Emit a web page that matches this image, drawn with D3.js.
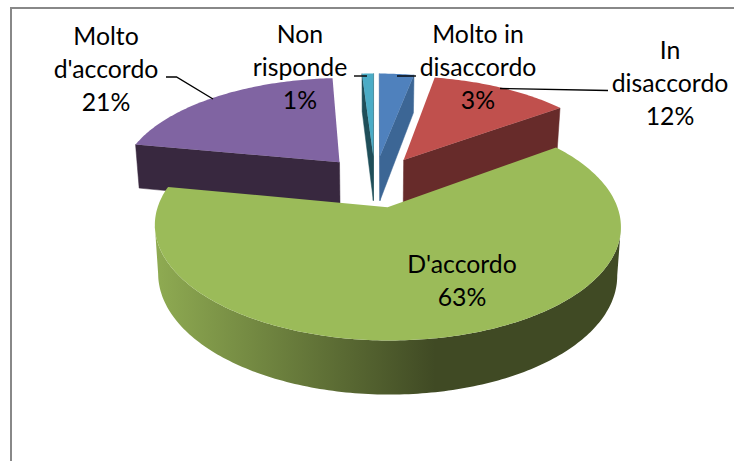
<!DOCTYPE html>
<html>
<head>
<meta charset="utf-8">
<script src="https://cdn.jsdelivr.net/npm/d3@7"></script>
<style>
  html, body { margin: 0; padding: 0; background: #fff; }
  text { font-family: Lato, "Open Sans", sans-serif; font-size: 24.8px; fill: #000; }
</style>
</head>
<body>
<div id="chart"></div>
<script>
const categories = ["Molto in disaccordo", "In disaccordo", "D'accordo", "Molto d'accordo", "Non risponde"];
const percents = [3, 12, 63, 21, 1];
const topColors = ["#4f81bd", "#c0504d", "#9bbb59", "#8064a2", "#4bacc6"];
const wallColors = ["#3c6695", "#672b2a", "#404a24", "#38283f", "#1f4e59"];

// label lines, broken the way the original wraps them
const labelLines = [
    ["Molto in", "disaccordo", "3%"],
    ["In", "disaccordo", "12%"],
    ["D'accordo", "63%"],
    ["Molto", "d'accordo", "21%"],
    ["Non", "risponde", "1%"],
];
const labelSpots = [[478, 43], [670, 59], [462, 273], [106, 45], [300, 43]];
const leaderLines = [
    [[397, 76], [416, 76]],
    [[500, 88.5], [608, 90.5]],
    [[166, 77], [176.5, 77], [213, 99]],
    [[354, 76], [367, 76]],
];

const width = 734, height = 461;
const svg = d3.select("#chart").append("svg")
    .attr("width", width)
    .attr("height", height);

// frame, only top and left are in the crop
svg.append("path")
    .attr("d", "M11,461V8H734")
    .attr("fill", "none")
    .attr("stroke", "#888888")
    .attr("stroke-width", 2);

// perspective of the tilted disc
const centerX = 375, centerY = 181;
const scaleX = 221, scaleY = 103, persp = 0.158;
const explode = 0.25;

function project(px, py, down) {
    const w = 1 + persp * py;
    const shrink = down ? 0.985 : 1;
    return [
        centerX + shrink * scaleX * px / w,
        centerY - scaleY * py / w + (down ? 46 - 6.5 * py : 0),
    ];
}

const slices = d3.pie().sort(null).value(d => d)(percents);

const defs = svg.append("defs");
const wallGrad = defs.append("linearGradient")
    .attr("id", "greenWall")
    .attr("gradientUnits", "userSpaceOnUse")
    .attr("x1", 155).attr("x2", 622).attr("y1", 0).attr("y2", 0);
wallGrad.append("stop").attr("offset", "0%").attr("stop-color", "#8fab52");
wallGrad.append("stop").attr("offset", "60%").attr("stop-color", "#404a24");
wallGrad.append("stop").attr("offset", "100%").attr("stop-color", "#404a24");

const line = d3.line();
const order = [3, 4, 0, 1, 2]; // back slices first, the big green one on top

order.forEach(i => {
    const s = slices[i];
    const mid = (s.startAngle + s.endAngle) / 2;
    const ox = explode * Math.sin(mid), oy = explode * Math.cos(mid);
    const onRim = a => [ox + Math.sin(a), oy + Math.cos(a)];

    const steps = Math.max(2, Math.ceil((s.endAngle - s.startAngle) * 60));
    const angles = d3.range(steps + 1).map(k => s.startAngle + (s.endAngle - s.startAngle) * k / steps);
    const rim = angles.map(onRim);

    const g = svg.append("g");
    const wallFill = i === 2 ? "url(#greenWall)" : wallColors[i];

    // a wall only shows when its outline runs the right way round on screen
    const addWall = pts => {
        const poly = pts.map(p => project(p[0], p[1], false))
            .concat(pts.slice().reverse().map(p => project(p[0], p[1], true)));
        if (d3.polygonArea(poly) < 0) return;
        g.append("path").attr("d", line(poly) + "Z")
            .attr("fill", wallFill).attr("stroke", wallFill).attr("stroke-width", 0.5);
    };
    addWall([[ox, oy], rim[0]]);
    addWall([rim[steps], [ox, oy]]);

    // outer wall, only the stretch that faces the viewer
    const front = d3.range(steps).filter(k => {
        const a = project(rim[k][0], rim[k][1], false);
        const b = project(rim[k + 1][0], rim[k + 1][1], false);
        return b[0] < a[0];
    });
    if (front.length) {
        const pts = front.map(k => rim[k]).concat([rim[front[front.length - 1] + 1]]);
        const poly = pts.map(p => project(p[0], p[1], false))
            .concat(pts.slice().reverse().map(p => project(p[0], p[1], true)));
        g.append("path").attr("d", line(poly) + "Z").attr("fill", wallFill);
    }

    const top = [[ox, oy]].concat(rim).map(p => project(p[0], p[1], false));
    g.append("path").attr("d", line(top) + "Z").attr("fill", topColors[i]);
});

// leader lines
leaderLines.forEach(pts => {
    svg.append("path")
        .attr("d", line(pts))
        .attr("fill", "none")
        .attr("stroke", "#000")
        .attr("stroke-width", 1.4);
});

// data labels
labelLines.forEach((rows, i) => {
    const t = svg.append("text")
        .attr("aria-label", categories[i] + " " + percents[i] + "%")
        .attr("text-anchor", "middle");
    rows.forEach((r, k) => {
        t.append("tspan")
            .attr("x", labelSpots[i][0])
            .attr("y", labelSpots[i][1] + k * 33)
            .text(r);
    });
});
</script>
</body>
</html>
